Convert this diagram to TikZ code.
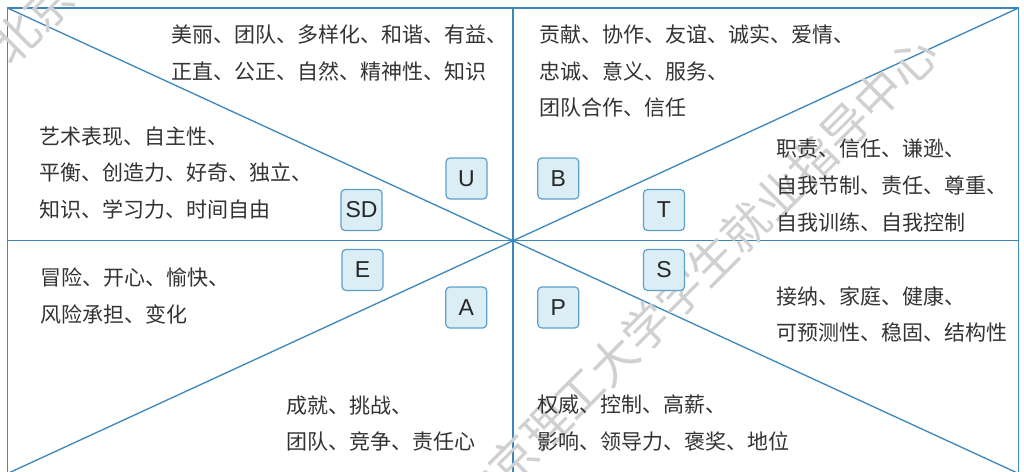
\documentclass[tikz,border=0pt]{standalone}
\usepackage{fontspec}
\setmainfont{Liberation Sans}
\newfontfamily\cjk{Noto Sans CJK SC}
\definecolor{lineblue}{HTML}{3B87BD}
\definecolor{boxborder}{HTML}{5E9FCC}
\definecolor{boxfill}{HTML}{DBEEF5}
\definecolor{textc}{HTML}{333333}
\definecolor{wmgray}{HTML}{D0D0D0}
\tikzset{
  gridline/.style={draw=lineblue, line width=1.3pt},
  lbox/.style={draw=boxborder, fill=boxfill, rounded corners=4pt, minimum width=41pt, minimum height=41pt, line width=1.2pt, inner sep=0pt, text=black!85, font=\fontsize{23}{23}\selectfont},
  lbl/.style={anchor=base west, inner sep=0pt, text=textc, font=\cjk\fontsize{21}{21}\selectfont},
  wmark/.style={inner sep=0pt, text=wmgray, rotate=45, font=\cjk\fontsize{47}{47}\selectfont}
}
\begin{document}
\begin{tikzpicture}[x=1pt,y=-1pt]
\useasboundingbox (0,0) rectangle (1024,471);
\clip (0,0) rectangle (1024,471);
\fill[white] (0,0) rectangle (1024,471);
% frame and axes
\coordinate (tl) at (7.5,8);
\coordinate (tr) at (1018.5,8);
\coordinate (bl) at (7.5,473.5);
\coordinate (br) at (1018.5,473.5);
\coordinate (tm) at (513,8);
\coordinate (bm) at (513,473.5);
\coordinate (lm) at (7.5,240.8);
\coordinate (rm) at (1018.5,240.8);
\draw[gridline] (tl) rectangle (br);
\draw[gridline] (tl) -- (br);
\draw[gridline] (bl) -- (tr);
\draw[gridline] (tm) -- (bm);
\draw[gridline] (lm) -- (rm);
% watermark
\node[wmark] (wm1) at (696,277) {北京理工大学学生就业指导中心};
\node[wmark] (wm2) at (231,-178) {北京理工大学学生就业指导中心};
% letter boxes
\node[lbox] (U) at (466.5,178.5) {U};
\node[lbox] (SD) at (361.5,210) {SD};
\node[lbox] (B) at (558.3,178.5) {B};
\node[lbox] (T) at (664,210) {T};
\node[lbox] (E) at (362.5,270) {E};
\node[lbox] (A) at (466.3,307.5) {A};
\node[lbox] (P) at (558.3,307.5) {P};
\node[lbox] (S) at (664,270) {S};
% U
\node[lbl] (u1) at (171,42) {美丽、团队、多样化、和谐、有益、};
\node[lbl] (u2) at (171,79) {正直、公正、自然、精神性、知识};
% B
\node[lbl] (b1) at (539,42) {贡献、协作、友谊、诚实、爱情、};
\node[lbl] (b2) at (539,79) {忠诚、意义、服务、};
\node[lbl] (b3) at (539,115.5) {团队合作、信任};
% SD
\node[lbl] (sd1) at (39,144) {艺术表现、自主性、};
\node[lbl] (sd2) at (39,180.5) {平衡、创造力、好奇、独立、};
\node[lbl] (sd3) at (39,217) {知识、学习力、时间自由};
% T
\node[lbl] (t1) at (776,156) {职责、信任、谦逊、};
\node[lbl] (t2) at (776,193) {自我节制、责任、尊重、};
\node[lbl] (t3) at (776,230) {自我训练、自我控制};
% E
\node[lbl] (e1) at (40,285.5) {冒险、开心、愉快、};
\node[lbl] (e2) at (40,322) {风险承担、变化};
% S
\node[lbl] (s1) at (776,304) {接纳、家庭、健康、};
\node[lbl] (s2) at (776,340.5) {可预测性、稳固、结构性};
% A
\node[lbl] (a1) at (286,413) {成就、挑战、};
\node[lbl] (a2) at (286,449.5) {团队、竞争、责任心};
% P
\node[lbl] (p1) at (537,412) {权威、控制、高薪、};
\node[lbl] (p2) at (537,449) {影响、领导力、褒奖、地位};
\end{tikzpicture}
\end{document}
